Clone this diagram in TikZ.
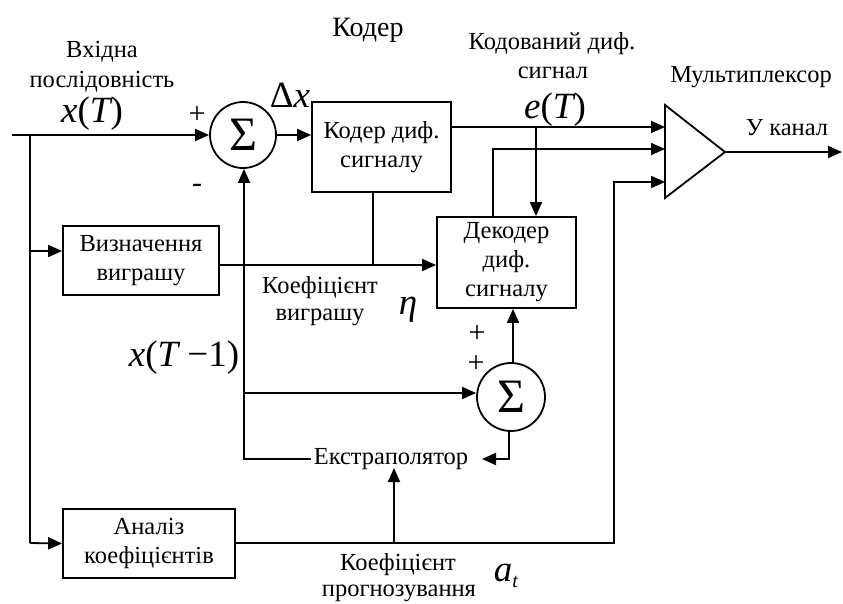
\documentclass[tikz,border=0pt]{standalone}
\usepackage{fontspec}
\setmainfont{Liberation Serif}
\usetikzlibrary{arrows.meta,calc}
\begin{document}
\begin{tikzpicture}[x=1pt,y=-1pt,
  line width=1.8pt,
  lbl/.style={font=\fontsize{24.5}{28}\selectfont, inner sep=0pt, align=center},
  sgn/.style={font=\fontsize{30}{30}\selectfont, inner sep=0pt},
  mth/.style={font=\fontsize{37}{40}\selectfont\itshape, inner sep=0pt},
  blk/.style={draw, line width=1.8pt, inner sep=2pt, align=center,
              font=\fontsize{24.5}{29}\selectfont},
  sumnode/.style={draw, circle, line width=1.8pt, minimum size=#1, inner sep=0pt,
              font=\fontsize{48}{48}\selectfont},
  arr/.style={-{Triangle[length=14pt,width=12pt]}},
]
\useasboundingbox (0,0) rectangle (843,603);

% blocks
\node[blk, minimum width=139pt, minimum height=90pt] (coder) at (381.5,147) {Кодер диф.\\сигналу};
\node[blk, minimum width=156pt, minimum height=69pt] (gain) at (141,260.5) {Визначення\\виграшу};
\node[blk, minimum width=139pt, minimum height=91pt] (decoder) at (506.5,262.5) {Декодер\\диф.\\сигналу};
\node[blk, minimum width=172pt, minimum height=69pt] (anal) at (149,543.5) {Аналіз\\коефіцієнтів};
\node[sumnode=66pt] (s1) at (243,135) {Σ};
\node[sumnode=68pt] (s2) at (511,397) {Σ};
\node[lbl] (extr) at (391,459) {Екстраполятор};

% multiplexer
\draw (665,105) -- (665,198) -- (725,152) -- cycle;
\coordinate (m1) at (665,127);
\coordinate (m2) at (665,149);
\coordinate (m3) at (665,182);
\coordinate (mout) at (725,152);
\coordinate (out) at (842,152);
\coordinate (in) at (12,135);
\coordinate (extrin) at (482,459);

% connectors
\draw[arr] (in) -- (s1.west);
\draw (30,135) -- (30,543);
\draw[arr] (30,543) -- (anal.west);
\draw[arr] (30,251) -- (gain.west |- 0,251);
\draw[arr] (s1.east) -- (coder.west |- s1.east);
\draw[arr] (gain.east |- 0,265) -- (decoder.west |- 0,265);
\draw (coder.south -| 373,0) -- (373,265);
\draw[arr] (coder.east |- m1) -- (m1);
\draw[arr] (536,127) -- (decoder.north -| 536,0);
\draw[arr] (decoder.north -| 493,0) -- (493,149) -- (m2);
\draw[arr] (anal.east |- 0,543) -- (614,543) -- (614,182) -- (m3);
\draw[arr] (394,543) -- (394,468);
\draw[arr] (s2.north -| 513,0) -- (decoder.south -| 513,0);
\draw[arr] (s2.south -| 509,0) -- (509,459) -- (extrin);
\draw[arr] ([xshift=-2pt]extr.west) -- (244,459) -- (s1.south -| 244,0);
\draw[arr] (244,393) -- (s2.west |- 0,393);
\draw[arr] (mout) -- (out);

% labels
\node[lbl, font=\fontsize{28}{30}\selectfont] (title) at (368,30) {Кодер};
\node[lbl] (inlbl1) at (102,52) {Вхідна};
\node[lbl] (inlbl2) at (102,82) {послідовність};
\node[mth] (xT) at (92,114) {x\upshape(\itshape T\upshape)};
\node[sgn] (p1) at (197,115) {+};
\node[sgn] (m1l) at (197,188) {-};
\node[mth] (dx) at (290,95) {\upshape Δ\itshape x};
\node[lbl] (el1) at (552,44) {Кодований диф.};
\node[lbl] (el2) at (553,73) {сигнал};
\node[mth] (eT) at (555,110) {e\upshape(\itshape T\upshape)};
\node[lbl] (mux) at (751,77) {Мультиплексор};
\node[lbl] (chan) at (787,128) {У канал};
\node[lbl] (g1) at (320,288) {Коефіцієнт};
\node[lbl] (g2) at (320,317) {виграшу};
\node[mth] (eta) at (408,310) {η};
\node[mth] (xT1) at (184,358) {x\upshape(\itshape T \upshape−1)};
\node[sgn] (p2) at (477,334) {+};
\node[sgn] (p3) at (476,364) {+};
\node[lbl] (k1) at (398,565) {Коефіцієнт};
\node[lbl] (k2) at (399,593) {прогнозування};
\node[mth] (at) at (506,576) {a\raisebox{-6pt}{\fontsize{20}{20}\selectfont t}};
\end{tikzpicture}
\end{document}
